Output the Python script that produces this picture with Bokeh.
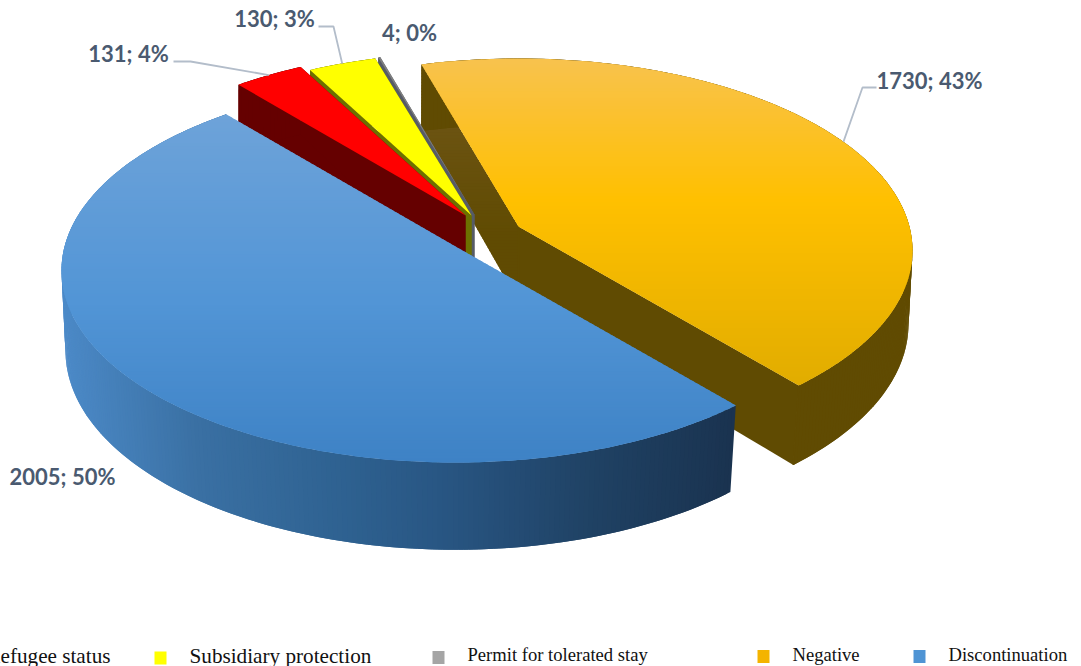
import math
from bokeh.core.properties import value
from bokeh.embed import file_html
from bokeh.models import Range1d
from bokeh.plotting import figure
from bokeh.resources import INLINE

# Asylum decisions by outcome
categories = ["Refugee status", "Subsidiary protection", "Permit for tolerated stay", "Negative", "Discontinuation"]
counts = [131, 130, 4, 1730, 2005]
percents = [4, 3, 0, 43, 50]

# Appearance of each slice, in the same order
top_colors = ["#ff0000", "#ffff00", "#7f7f7f", None, None]
wall_colors = ["#650000", "#6c7000", "#565b66", "#604b02", "#1a3350"]
# Pie centre of each pulled-out slice on the top and bottom faces, with its radius factor
top_centres = [(465, 215), (471, 215), (474, 214), (518, 226), (455, 246)]
bottom_drop = [75, 75, 75, 75, 82]
radius_factor = [0.99, 0.97, 0.97, 1.0, 1.0]

blue_top = [(112, "#6ea3d9"), (300, "#5295d6"), (462, "#3e82c5")]
orange_top = [(62, "#f8c24c"), (200, "#ffc000"), (380, "#e2ad00")]
orange_cut = [(65, "#72581a"), (235, "#604b02")]
blue_wall = [(62, "#4c8ac8"), (200, "#3a70a3"), (350, "#2e6190"), (450, "#285582"), (600, "#1f4163"), (732, "#1a3350")]
marker_colors = ["#ff0000", "#ffff00", "#a5a5a5", "#f4b400", "#4f94d4"]

FIRST_ANGLE = 130.0   # where the first slice begins, in degrees on the pie plane
TOP = (394.0, 192.0, 0.125)     # half-width, half-height, perspective of the top face
BOTTOM = (390.0, 199.0, 0.112)  # the same for the bottom face


def project(phi, centre, face, factor=1.0):
    a, b, k = face
    t = math.radians(phi)
    w = 1 + k * math.sin(t)
    x = a * math.sqrt(1 - k * k) * math.cos(t) / w
    y = b * (1 - k * k) * math.sin(t) / w
    return centre[0] + factor * x, centre[1] - factor * y


def mix(stops, v):
    def rgb(h):
        return [int(h[i:i + 2], 16) for i in (1, 3, 5)]
    if v <= stops[0][0]:
        return stops[0][1]
    for (p0, c0), (p1, c1) in zip(stops, stops[1:]):
        if v <= p1:
            f = (v - p0) / (p1 - p0)
            vals = [round(u + (w - u) * f) for u, w in zip(rgb(c0), rgb(c1))]
            return "#%02x%02x%02x" % tuple(vals)
    return stops[-1][1]


def clip_band(points, y0, y1):
    def cut(pts, keep, cross):
        out = []
        for i, cur in enumerate(pts):
            prev = pts[i - 1]
            if keep(cur):
                if not keep(prev):
                    out.append(cross(prev, cur))
                out.append(cur)
            elif keep(prev):
                out.append(cross(prev, cur))
        return out

    def at(level):
        def f(p, q):
            t = (level - p[1]) / (q[1] - p[1])
            return (p[0] + (q[0] - p[0]) * t, level)
        return f

    pts = cut(points, lambda q: q[1] >= y0, at(y0))
    return cut(pts, lambda q: q[1] <= y1, at(y1)) if pts else []


p = figure(width=1081, height=666, x_range=Range1d(0, 1081), y_range=Range1d(666, 0),
           output_backend="svg", toolbar_location=None, min_border=0,
           outline_line_color=None, background_fill_color="white")
p.xaxis.visible = False
p.yaxis.visible = False
p.grid.visible = False


def poly(points, color):
    p.patch([q[0] for q in points], [q[1] for q in points], fill_color=color, fill_alpha=1.0,
            line_color=None)


def banded(points, stops):
    # Vertical gradient: overlapping horizontal bands, painted downwards so no seam shows
    ys = [q[1] for q in points]
    y = math.floor(min(ys))
    while y < max(ys):
        band = clip_band(points, y, y + 5)
        if len(band) >= 3:
            poly(band, mix(stops, y + 1.5))
        y += 3


# Angular extent of every slice, running clockwise on the pie plane
total = sum(counts)
starts, ends = [], []
angle = FIRST_ANGLE
for n in counts:
    starts.append(angle)
    angle -= 360.0 * n / total
    ends.append(angle)

# Back slices first, the large front slice last
for i in (3, 2, 1, 0, 4):
    c_top = top_centres[i]
    c_bot = (c_top[0], c_top[1] + bottom_drop[i])
    f = radius_factor[i]
    steps = max(4, int((starts[i] - ends[i]) * 1.5))
    phis = [starts[i] + (ends[i] - starts[i]) * s / steps for s in range(steps + 1)]
    rim_top = [project(a, c_top, TOP, f) for a in phis]
    rim_bot = [project(a, c_bot, BOTTOM, f) for a in phis]

    # Cut faces
    if i != 4:
        start_wall = [c_top, rim_top[0], rim_bot[0], c_bot]
        if i == 3:
            banded(start_wall, orange_cut)
        else:
            poly(start_wall, wall_colors[i])
        poly([c_top, rim_top[-1], rim_bot[-1], c_bot], wall_colors[i])

    # Rim wall, as overlapping strips painted in order
    for j in range(steps):
        k = min(j + 2, steps)
        quad = [rim_top[j], rim_top[k], rim_bot[k], rim_bot[j]]
        mid_x = (rim_top[j][0] + rim_bot[j][0]) / 2
        poly(quad, mix(blue_wall, mid_x) if i == 4 else wall_colors[i])

    # Close the hairlines where the cut faces and the rim wall meet
    if i == 3:
        for a, b in ((c_top, c_bot), (rim_top[-1], rim_bot[-1])):
            p.line([a[0], b[0]], [a[1], b[1]], line_color=wall_colors[i], line_width=1.5)

    # Top face
    face = [c_top] + rim_top
    if top_colors[i]:
        poly(face, top_colors[i])
    else:
        banded(face, orange_top if i == 3 else blue_top)

# Value labels and their leader lines
label_anchor = [(128, 53), (274, 18), (409, 32), (929, 80), (62, 476)]
leader_elbows = [[(173, 61), (190, 61)], [(318, 26), (333, 26)], None, [(876, 87), (862, 87)], None]
for i, n in enumerate(counts):
    elbow = leader_elbows[i]
    if elbow:
        end = project((starts[i] + ends[i]) / 2, top_centres[i], TOP, radius_factor[i])
        pts = elbow + [end]
        p.line([q[0] for q in pts], [q[1] for q in pts], line_color="#b3bdca", line_width=1.8)
    p.text([label_anchor[i][0]], [label_anchor[i][1]], text=[f"{n}; {percents[i]}%"],
           text_font=value("Lato"), text_font_style="bold", text_font_size="22px",
           text_color="#4a5a70", text_align="center", text_baseline="middle")

# Legend along the bottom edge, starting beyond the left border
legend_marker_x = [-34, 160, 438, 763, 919]
legend_marker_y = [657, 657.5, 657, 656, 656]
legend_text_x = [110, 189, 467, 792, 948]
legend_text_y = [655, 655, 654, 654, 654]
legend_text_size = ["21.2px", "21.2px", "18.6px", "18.6px", "18.6px"]
legend_align = ["right", "left", "left", "left", "left"]
for i, name in enumerate(categories):
    p.rect([legend_marker_x[i]], [legend_marker_y[i]], width=12, height=13,
           fill_color=marker_colors[i], fill_alpha=1.0, line_color=None)
    p.text([legend_text_x[i]], [legend_text_y[i]], text=[name],
           text_font=value("Liberation Serif"), text_font_size=legend_text_size[i],
           text_color="#111111", text_align=legend_align[i], text_baseline="middle")

open("out.html", "w").write(file_html(p, INLINE))
